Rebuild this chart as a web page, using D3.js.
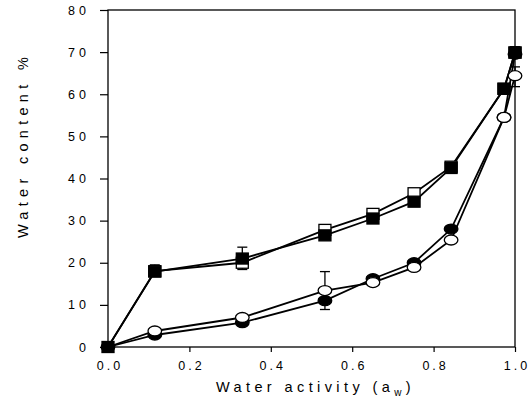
<!DOCTYPE html>
<html>
<head>
<meta charset="utf-8">
<script src="https://cdn.jsdelivr.net/npm/d3@7"></script>
<style>
	body { margin: 0; background: #fff; }
	text { font-family: "Liberation Sans", Arial, sans-serif; fill: #000; }
</style>
</head>
<body>
<svg id="chart"></svg>
<script>
// water activity (x) and water content % for the four series
const aw = [0, 0.115, 0.33, 0.533, 0.651, 0.752, 0.843, 0.973, 1.0];
const filledSquares = [0, 17.9, 21.0, 26.5, 30.5, 34.5, 42.5, 61.3, 69.9];
const openSquares = [0, 18.0, 20.0, 27.8, 31.6, 36.5, 42.8, 61.3, 69.9];
const filledCircles = [0, 2.85, 5.8, 11.0, 16.2, 20.0, 28.0, 54.5, 69.5];
const openCircles = [0, 3.8, 7.0, 13.4, 15.3, 18.9, 25.4, 54.5, 64.4];

// error bars
const errX = [0.115, 0.33, 0.533, 0.533, 0.752, 1.0, 1.0];
const errLow = [17.9, 18.4, 13.4, 8.9, 36.5, 68.8, 61.8];
const errHigh = [19.5, 23.7, 17.9, 11.0, 37.6, 71.3, 66.5];

const xTicks = [0, 0.2, 0.4, 0.6, 0.8, 1.0];
const yTicks = [0, 10, 20, 30, 40, 50, 60, 70, 80];

const WIDTH = 532;
const HEIGHT = 405;
const margin = {top: 10, right: 17, bottom: 58, left: 108};

const svg = d3.select('#chart')
	.attr('width', WIDTH)
	.attr('height', HEIGHT);

const x = d3.scaleLinear()
	.domain([0, 1])
	.range([margin.left, WIDTH - margin.right]);

const y = d3.scaleLinear()
	.domain([0, 80])
	.range([HEIGHT - margin.bottom, margin.top]);

// axes
svg.append('g')
	.attr('transform', `translate(0,${y(0)})`)
	.call(d3.axisBottom(x).tickValues(xTicks).tickSize(5).tickPadding(9).tickFormat(d3.format('.1f')))
	.call(g => g.select('.domain').remove())
	.call(g => g.selectAll('line').attr('stroke-width', 1.2))
	.call(g => g.selectAll('text').attr('font-size', 12.5).attr('letter-spacing', '3px').attr('dx', '1.5px'));

svg.append('g')
	.attr('transform', `translate(${x(0)},0)`)
	.call(d3.axisLeft(y).tickValues(yTicks).tickSize(8).tickPadding(14))
	.call(g => g.select('.domain').remove())
	.call(g => g.selectAll('line').attr('stroke-width', 1.2))
	.call(g => g.selectAll('text').attr('font-size', 12.5).attr('letter-spacing', '4px').attr('dx', '4px'));

// frame
svg.append('rect')
	.attr('x', x(0))
	.attr('y', y(80))
	.attr('width', x(1) - x(0))
	.attr('height', y(0) - y(80))
	.attr('fill', 'none')
	.attr('stroke', '#000')
	.attr('stroke-width', 1.3);

// axis titles
const xt = svg.append('text')
	.attr('x', (x(0) + x(1)) / 2 + 4)
	.attr('y', 392)
	.attr('text-anchor', 'middle')
	.attr('font-size', 14.5)
	.attr('letter-spacing', '4.4px');
xt.append('tspan').text('Water activity (a');
xt.append('tspan').attr('font-size', 10).attr('dy', 4).text('w');
xt.append('tspan').attr('dy', -4).text(')');

svg.append('text')
	.attr('transform', 'translate(28,145) rotate(-90)')
	.attr('text-anchor', 'middle')
	.attr('font-size', 14.5)
	.attr('letter-spacing', '5.3px')
	.text('Water content %');

// lines
const line = d3.line()
	.x((d, i) => x(aw[i]))
	.y(d => y(d));

const series = [openSquares, filledSquares, filledCircles, openCircles];
svg.append('g')
	.selectAll('path')
	.data(series)
	.enter().append('path')
	.attr('d', line)
	.attr('fill', 'none')
	.attr('stroke', '#000')
	.attr('stroke-width', 1.8);

// error bars
const eb = svg.append('g')
	.attr('stroke', '#000')
	.attr('stroke-width', 1.3)
	.selectAll('g')
	.data(errX.map((d, i) => [d, errLow[i], errHigh[i]]))
	.enter().append('g');
eb.append('line')
	.attr('x1', d => x(d[0])).attr('x2', d => x(d[0]))
	.attr('y1', d => y(d[1])).attr('y2', d => y(d[2]));
eb.append('line')
	.attr('x1', d => x(d[0]) - 5).attr('x2', d => x(d[0]) + 5)
	.attr('y1', d => y(d[2])).attr('y2', d => y(d[2]));
eb.append('line')
	.attr('x1', d => x(d[0]) - 5).attr('x2', d => x(d[0]) + 5)
	.attr('y1', d => y(d[1])).attr('y2', d => y(d[1]));

// markers
const pts = vals => vals.map((v, i) => [aw[i], v]);

const drawSquares = (vals, fill, skipZero) => {
	svg.append('g')
		.selectAll('rect')
		.data(pts(vals).filter(d => !skipZero || d[1] > 0))
		.enter().append('rect')
		.attr('x', d => x(d[0]) - 6)
		.attr('y', d => y(d[1]) - 5.5)
		.attr('width', 12)
		.attr('height', 11)
		.attr('fill', fill)
		.attr('stroke', '#000')
		.attr('stroke-width', 1.3);
};

const drawCircles = (vals, fill, skipZero) => {
	svg.append('g')
		.selectAll('ellipse')
		.data(pts(vals).filter(d => !skipZero || d[1] > 0))
		.enter().append('ellipse')
		.attr('cx', d => x(d[0]))
		.attr('cy', d => y(d[1]))
		.attr('rx', 6.8)
		.attr('ry', 5)
		.attr('fill', fill)
		.attr('stroke', '#000')
		.attr('stroke-width', 1.3);
};

drawSquares(openSquares, '#fff', true);
drawSquares(filledSquares, '#000', false);
drawCircles(filledCircles, '#000', false);
drawCircles(openCircles, '#fff', true);
</script>
</body>
</html>
